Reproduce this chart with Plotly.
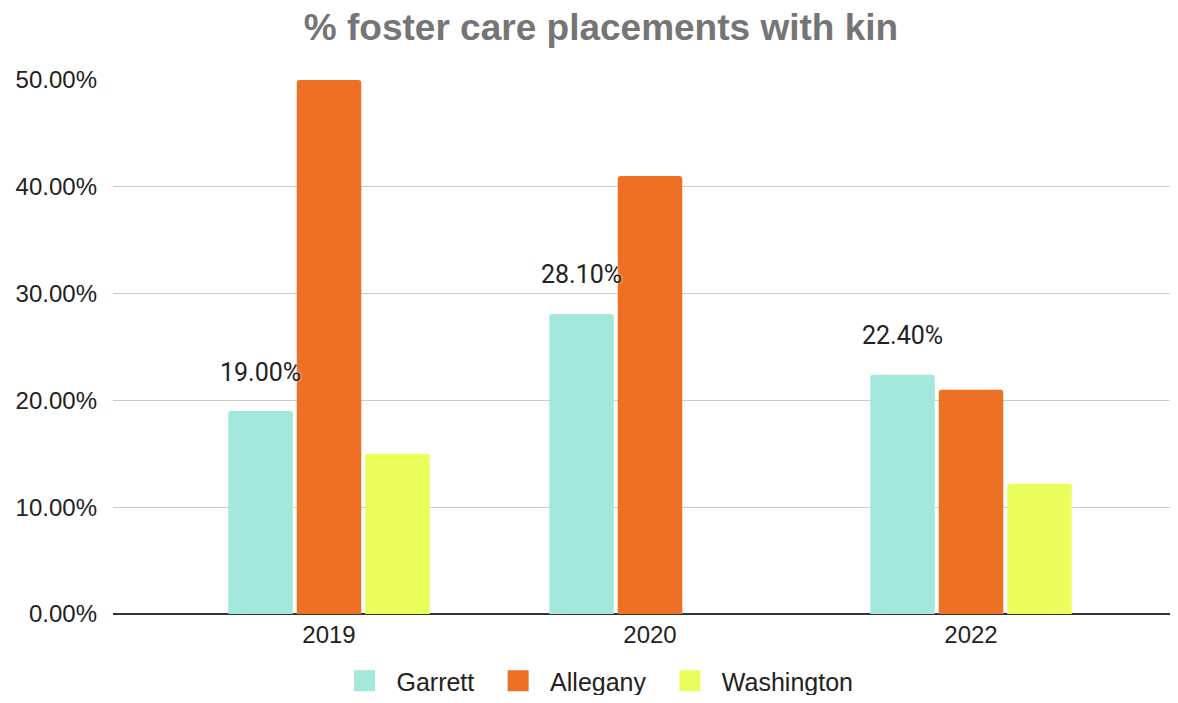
import plotly.graph_objects as go

years = ["2019", "2020", "2022"]
garrett = [0.19, 0.281, 0.224]
allegany = [0.50, 0.41, 0.21]
washington = [0.15, None, 0.122]
garrett_labels = ["19.00%", "28.10%", "22.40%"]

y_ticks = [0, 0.1, 0.2, 0.3, 0.4, 0.5]

colors = {"Garrett": "#A3E8DA", "Allegany": "#EE7025", "Washington": "#EAFF5C"}

# page body adds an 8px margin, so the figure is 16px smaller than the window
W, H = 1162, 687

fig = go.Figure()
for name, vals in [("Garrett", garrett), ("Allegany", allegany), ("Washington", washington)]:
    fig.add_trace(go.Bar(
        x=years, y=vals, name=name, showlegend=False,
        marker=dict(color=colors[name], cornerradius=3, line=dict(width=0)),
        hoverinfo="y+name",
    ))
    # legend-only entry with a bigger square swatch
    fig.add_trace(go.Scatter(
        x=[None], y=[None], mode="markers",
        name="\u00a0\u2009" + name + "\u00a0\u00a0\u2009",
        marker=dict(symbol="square", size=16, color=colors[name],
                    line=dict(width=5, color=colors[name])),
    ))

# data labels on the Garrett series
for i, (v, lab) in enumerate(zip(garrett, garrett_labels)):
    fig.add_annotation(
        x=i - 0.212, y=v, text=lab, showarrow=False,
        yanchor="middle", yshift=39,
        font=dict(family="Roboto", size=25, color="#222222",
                  shadow="0px 0px 3px white"),
    )

fig.update_layout(
    width=W, height=H,
    margin=dict(l=105, r=0, t=72, b=81),
    paper_bgcolor="white", plot_bgcolor="white",
    font=dict(family="Liberation Sans, Arial", size=24, color="#222222"),
    title=dict(
        text="<b>% foster care placements with kin</b>",
        x=593 / W, xanchor="center", y=1 - 19.5 / H, yanchor="middle",
        yref="container",
        font=dict(family="Liberation Sans, Arial", size=37, color="#757575"),
    ),
    barmode="group", bargap=0.36, bargroupgap=0.058,
    legend=dict(
        orientation="h", x=603 / W, xref="container", xanchor="center",
        y=(H - 673) / H, yref="container", yanchor="middle",
        font=dict(size=25, color="#222222"),
    ),
)
fig.update_xaxes(
    type="category", range=[-0.6729, 2.6199], showgrid=False,
    showline=False, ticks="", ticklabelstandoff=4, automargin=False,
)
fig.update_yaxes(
    range=[0, 0.5], tickvals=y_ticks, tickformat=".2%",
    showgrid=True, gridcolor="#CCCCCC", gridwidth=1,
    zeroline=True, zerolinecolor="#333333", zerolinewidth=2,
    ticklabelstandoff=15, automargin=False,
)

fig.write_html("out.html")
